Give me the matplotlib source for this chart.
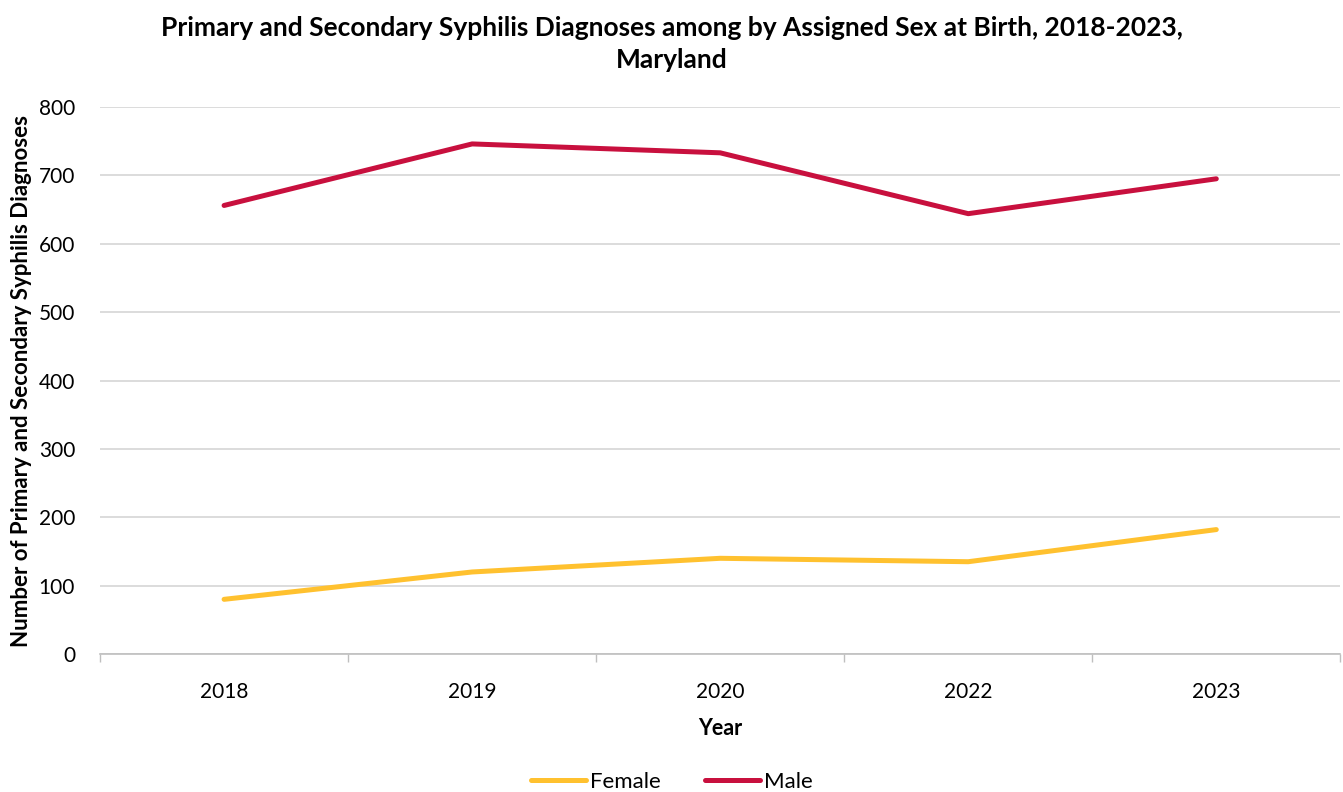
import numpy as np
import matplotlib.pyplot as plt
from matplotlib.ticker import FixedLocator

plt.rcParams['font.family'] = ['Lato', 'DejaVu Sans']

# data
years = ["2018", "2019", "2020", "2022", "2023"]
female = [80, 120, 140, 135, 182]
male = [656, 746, 733, 644, 695]

fig = plt.figure(figsize=(13.43, 7.92), dpi=100)
ax = fig.add_axes([0.0745, 0.1742, 0.9235, 0.6907])

x = np.arange(len(years))
ax.plot(x, female, color="#FFC12F", lw=3.6, solid_capstyle="round", label="Female")
ax.plot(x, male, color="#C8103E", lw=3.6, solid_capstyle="round", label="Male")

ax.set_xlim(-0.5, len(years) - 0.5)
ax.set_ylim(0, 800)
ax.set_yticks(range(0, 801, 100))
ax.set_xticks(x)
ax.set_xticklabels(years)
ax.xaxis.set_minor_locator(FixedLocator(np.arange(-0.5, len(years), 1.0)))
ax.tick_params(axis="x", which="major", length=0, pad=20, labelsize=15, colors="#000000")
ax.tick_params(axis="x", which="minor", length=6, color="#BFBFBF", width=1)
ax.tick_params(axis="y", length=0, pad=18, labelsize=15)

ax.grid(axis="y", color="#D9D9D9", lw=1.3)
ax.set_axisbelow(True)
for s in ["top", "right", "left"]:
    ax.spines[s].set_visible(False)
ax.spines["bottom"].set_color("#BFBFBF")
ax.spines["bottom"].set_linewidth(1.2)

ax.set_xlabel("Year", fontsize=15.5, fontweight="bold", labelpad=12)
ax.set_ylabel("Number of Primary and Secondary Syphilis Diagnoses", fontsize=16,
              fontweight="bold")
ax.yaxis.set_label_coords(-0.055, 0.5)

fig.suptitle("Primary and Secondary Syphilis Diagnoses among by Assigned Sex at Birth, 2018-2023,\nMaryland",
             x=0.5, y=0.98, fontsize=19, fontweight="bold", linespacing=1.4)

fig.legend(loc="lower center", bbox_to_anchor=(0.5, -0.025), ncol=2, frameon=False,
           fontsize=16, handlelength=2.5, handletextpad=0.15, columnspacing=2.0)

fig.savefig("out.png", dpi=100)
